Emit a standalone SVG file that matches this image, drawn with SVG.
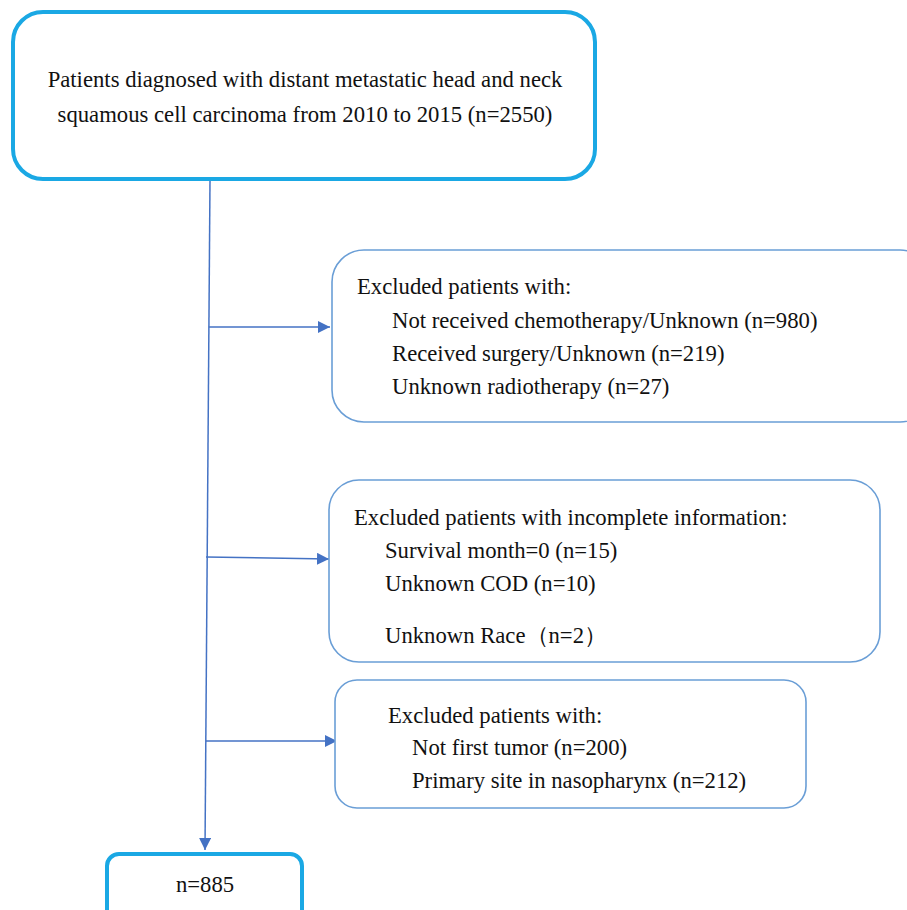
<svg xmlns="http://www.w3.org/2000/svg" width="907" height="910" viewBox="0 0 907 910">
<defs>
<style>
.t{font-family:"Liberation Serif","Times New Roman",serif;font-size:22.7px;fill:#111}
.main{fill:#fff;stroke:#1aa8e4;stroke-width:4}
.side{fill:#fff;stroke:#6a9ed6;stroke-width:1.6}
.c{stroke:#4472c4;stroke-width:1.5;fill:none}
</style>
<marker id="ah" viewBox="0 0 10 10" refX="10" refY="5" markerWidth="12" markerHeight="12" markerUnits="userSpaceOnUse" orient="auto">
<path d="M0,0 L10,5 L0,10 z" fill="#4472c4"/>
</marker>
</defs>
<rect width="907" height="910" fill="#fff"/>
<g id="connectors">
<path class="c" d="M210,180 L205,850" marker-end="url(#ah)"/>
<path class="c" d="M209,327 L330,327" marker-end="url(#ah)"/>
<path class="c" d="M206,557 L329,559" marker-end="url(#ah)"/>
<path class="c" d="M206,741 L337,741" marker-end="url(#ah)"/>
</g>
<g id="start">
<rect class="main" x="13" y="12" width="582" height="167" rx="30"/>
<text class="t" x="305" y="87" text-anchor="middle">Patients diagnosed with distant metastatic head and neck</text>
<text class="t" x="305" y="122" text-anchor="middle">squamous cell carcinoma from 2010 to 2015 (n=2550)</text>
</g>
<g id="excl1">
<rect class="side" x="332" y="250" width="600" height="172" rx="32"/>
<text class="t" x="357" y="294">Excluded patients with:</text>
<text class="t" x="392" y="328">Not received chemotherapy/Unknown (n=980)</text>
<text class="t" x="392" y="361">Received surgery/Unknown (n=219)</text>
<text class="t" x="392" y="394">Unknown radiotherapy (n=27)</text>
</g>
<g id="excl2">
<rect class="side" x="329" y="480" width="551" height="182" rx="30"/>
<text class="t" x="354" y="525">Excluded patients with incomplete information:</text>
<text class="t" x="385" y="558">Survival month=0 (n=15)</text>
<text class="t" x="385" y="591">Unknown COD (n=10)</text>
<text class="t" x="385" y="643">Unknown Race（n=2）</text>
</g>
<g id="excl3">
<rect class="side" x="335" y="680" width="471" height="128" rx="22"/>
<text class="t" x="388" y="723">Excluded patients with:</text>
<text class="t" x="412" y="755">Not first tumor (n=200)</text>
<text class="t" x="412" y="788">Primary site in nasopharynx (n=212)</text>
</g>
<g id="final">
<rect class="main" x="107" y="854" width="195" height="70" rx="12"/>
<text class="t" x="205" y="892" text-anchor="middle">n=885</text>
</g>
</svg>
